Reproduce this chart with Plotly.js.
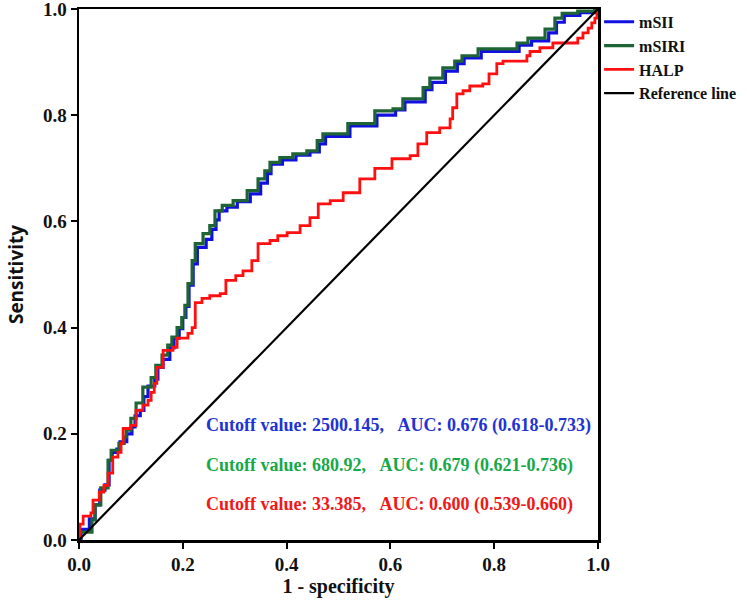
<!DOCTYPE html>
<html>
<head>
<meta charset="utf-8">
<script src="https://cdn.plot.ly/plotly-3.0.1.min.js"></script>
<style>
  html, body { margin: 0; padding: 0; background: #fff; }
  #chart { width: 747px; height: 605px; }
</style>
</head>
<body>
<div id="chart"></div>
<script>
// ROC curve vertices (1 - specificity, sensitivity)
const msiiX = [0,0.004,0.020,0.031,0.040,0.050,0.058,0.064,0.073,0.079,0.092,0.102,0.108,0.118,0.125,0.133,0.146,0.152,0.162,0.175,0.183,0.193,0.200,0.206,0.212,0.220,0.228,0.245,0.256,0.264,0.270,0.285,0.305,0.330,0.350,0.363,0.370,0.392,0.418,0.445,0.463,0.475,0.522,0.574,0.610,0.628,0.667,0.680,0.706,0.729,0.742,0.775,0.848,0.872,0.905,0.920,0.935,0.965,0.994,1];
const msiiY = [0,0.020,0.040,0.066,0.094,0.104,0.150,0.165,0.171,0.185,0.200,0.213,0.234,0.244,0.270,0.290,0.303,0.325,0.340,0.362,0.380,0.398,0.419,0.440,0.480,0.520,0.551,0.566,0.585,0.603,0.620,0.627,0.637,0.652,0.672,0.690,0.708,0.716,0.725,0.731,0.746,0.760,0.780,0.800,0.810,0.825,0.848,0.862,0.883,0.897,0.908,0.920,0.932,0.940,0.955,0.975,0.988,0.993,0.998,1];

const msiriX = [0,0,0.025,0.031,0.042,0.056,0.062,0.077,0.087,0.091,0.100,0.110,0.123,0.139,0.148,0.160,0.171,0.179,0.189,0.198,0.204,0.210,0.218,0.224,0.239,0.252,0.262,0.276,0.297,0.324,0.345,0.358,0.368,0.387,0.412,0.439,0.459,0.470,0.518,0.570,0.605,0.624,0.663,0.676,0.701,0.724,0.738,0.769,0.844,0.865,0.898,0.917,0.931,0.961,0.994,1];
const msiriY = [0,0.015,0.038,0.066,0.098,0.150,0.169,0.182,0.194,0.207,0.229,0.258,0.288,0.306,0.329,0.348,0.367,0.382,0.400,0.419,0.442,0.483,0.526,0.558,0.577,0.592,0.620,0.630,0.639,0.658,0.680,0.695,0.711,0.720,0.727,0.733,0.752,0.765,0.784,0.808,0.812,0.831,0.852,0.870,0.889,0.902,0.912,0.925,0.936,0.945,0.962,0.983,0.992,0.996,1,1];

const halpX = [0,0.002,0.008,0.023,0.027,0.039,0.048,0.056,0.065,0.075,0.081,0.085,0.100,0.110,0.123,0.133,0.139,0.145,0.150,0.162,0.181,0.189,0.210,0.218,0.224,0.237,0.252,0.272,0.283,0.302,0.316,0.333,0.345,0.368,0.383,0.401,0.426,0.445,0.461,0.484,0.509,0.541,0.570,0.603,0.638,0.653,0.670,0.695,0.715,0.720,0.728,0.740,0.753,0.778,0.790,0.805,0.817,0.863,0.869,0.888,0.913,0.961,0.971,0.981,0.988,0.994,0.998,1];
const halpY = [0,0.030,0.045,0.051,0.075,0.090,0.103,0.126,0.156,0.165,0.182,0.210,0.216,0.244,0.254,0.263,0.278,0.295,0.325,0.357,0.363,0.380,0.389,0.400,0.447,0.455,0.460,0.464,0.489,0.498,0.507,0.526,0.558,0.564,0.573,0.579,0.592,0.607,0.633,0.639,0.654,0.680,0.700,0.718,0.724,0.746,0.767,0.776,0.793,0.814,0.840,0.846,0.855,0.859,0.878,0.897,0.902,0.912,0.920,0.927,0.936,0.945,0.955,0.964,0.974,0.983,0.996,1];

const refX = [0, 1];
const refY = [0, 1];

const seriesNames = ['mSII', 'mSIRI', 'HALP', 'Reference line'];
const tickVals = [0, 0.2, 0.4, 0.6, 0.8, 1.0];
const tickText = ['0.0', '0.2', '0.4', '0.6', '0.8', '1.0'];

const cutoffLabels = [
  'Cutoff value: 2500.145,\u00a0\u00a0\u00a0AUC: 0.676 (0.618-0.733)',
  'Cutoff value: 680.92,\u00a0\u00a0\u00a0AUC: 0.679 (0.621-0.736)',
  'Cutoff value: 33.385,\u00a0\u00a0\u00a0AUC: 0.600 (0.539-0.660)'
];
const labelColors = ['#2233d4', '#17a84a', '#f01818'];

const serif = '"Liberation Serif", "DejaVu Serif", serif';

const traces = [
  { x: msiiX, y: msiiY, name: seriesNames[0], mode: 'lines', line: { color: '#1010e0', width: 3.2, shape: 'hv' } },
  { x: msiriX, y: msiriY, name: seriesNames[1], mode: 'lines', line: { color: '#1f6435', width: 3.2, shape: 'hv' } },
  { x: halpX, y: halpY, name: seriesNames[2], mode: 'lines', line: { color: '#ff1010', width: 2.8, shape: 'hv' } },
  { x: refX, y: refY, name: seriesNames[3], mode: 'lines', line: { color: '#000000', width: 2.2 } }
];

const annotations = cutoffLabels.map((t, i) => ({
  x: 0.241, y: [0.216, 0.141, 0.066][i],
  xref: 'x', yref: 'y', xanchor: 'left', yanchor: 'middle',
  text: t, showarrow: false,
  font: { family: serif, size: 18, weight: 'bold', color: labelColors[i] }
}));

const axisCommon = {
  range: [0, 1], tickvals: tickVals, ticktext: tickText,
  showline: true, mirror: true, linecolor: '#000', linewidth: 2.5,
  ticks: 'outside', ticklen: 6, tickwidth: 2, tickcolor: '#000',
  showgrid: false, zeroline: false, fixedrange: true,
  ticklabeloverflow: 'allow',
  tickfont: { family: serif, size: 19, weight: 'bold', color: '#111' }
};

const layout = {
  width: 747, height: 605,
  margin: { l: 79, r: 149, t: 9, b: 65, pad: 0, autoexpand: false },
  paper_bgcolor: '#fff', plot_bgcolor: '#fff',
  showlegend: true,
  legend: {
    xref: 'container', yref: 'container',
    x: 0.802, y: 0.992, xanchor: 'left', yanchor: 'top',
    font: { family: serif, size: 16, weight: 'bold', color: '#111' },
    itemwidth: 30, bgcolor: 'rgba(0,0,0,0)', tracegroupgap: 0
  },
  xaxis: Object.assign({}, axisCommon, {
    title: { text: '1 - specificity', font: { family: serif, size: 20, weight: 'bold', color: '#111' }, standoff: 0 }
  }),
  yaxis: Object.assign({}, axisCommon, {
    title: { text: 'Sensitivity', font: { family: '"Open Sans", "Noto Sans", sans-serif', size: 19, weight: 'bold', color: '#111' }, standoff: 15 }
  }),
  annotations: annotations
};

Plotly.newPlot('chart', traces, layout, { displayModeBar: false, staticPlot: true });
</script>
</body>
</html>
